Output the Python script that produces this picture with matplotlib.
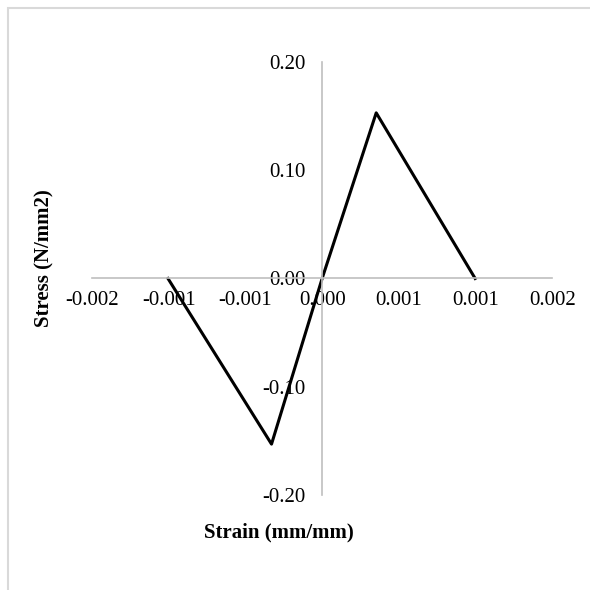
import matplotlib
matplotlib.use('Agg')
import matplotlib.pyplot as plt
from matplotlib.patches import Rectangle

# strain-stress points
strain = [-0.00134, -0.00044, 0.0, 0.00047, 0.00133]
stress = [0.0, -0.153, 0.0, 0.153, 0.0]

xticks = [-0.002, -0.0013333, -0.0006667, 0.0, 0.0006667, 0.0013333, 0.002]
xticklabels = ['-0.002', '-0.001', '-0.001', '0.000', '0.001', '0.001', '0.002']
yticks = [-0.20, -0.10, 0.0, 0.10, 0.20]
yticklabels = ['-0.20', '-0.10', '0.00', '0.10', '0.20']

plt.rcParams['font.family'] = ['Liberation Serif', 'DejaVu Serif']
plt.rcParams['axes.unicode_minus'] = False

fig = plt.figure(figsize=(5.9, 5.9), dpi=100)
ax = fig.add_axes([0.156, 0.161, 0.780, 0.734])

ax.plot(strain, stress, color='black', lw=2.2)

ax.set_xlim(-0.002, 0.002)
ax.set_ylim(-0.20, 0.20)

for s in ['top', 'right']:
    ax.spines[s].set_visible(False)
for s in ['left', 'bottom']:
    ax.spines[s].set_position('zero')
    ax.spines[s].set_color('#BFBFBF')
    ax.spines[s].set_linewidth(1.2)

ax.set_xticks(xticks)
ax.set_xticklabels(xticklabels)
ax.set_yticks(yticks)
ax.set_yticklabels(yticklabels)
ax.tick_params(axis='both', length=0, labelsize=15)
ax.tick_params(axis='x', pad=9)
ax.tick_params(axis='y', pad=12)

fig.text(0.473, 0.097, 'Strain (mm/mm)', ha='center', va='center',
         fontsize=15, fontweight='bold')
fig.text(0.075, 0.563, 'Stress (N/mm2)', ha='center', va='center',
         rotation=90, fontsize=15, fontweight='bold')

# chart area border (cut off at the right and bottom)
fig.patches.append(Rectangle((8 / 590, -0.1), 1.2, 1.1 - 8 / 590,
                             transform=fig.transFigure, fill=False,
                             edgecolor='#D9D9D9', lw=1.5))

fig.savefig('out.png', dpi=100)
